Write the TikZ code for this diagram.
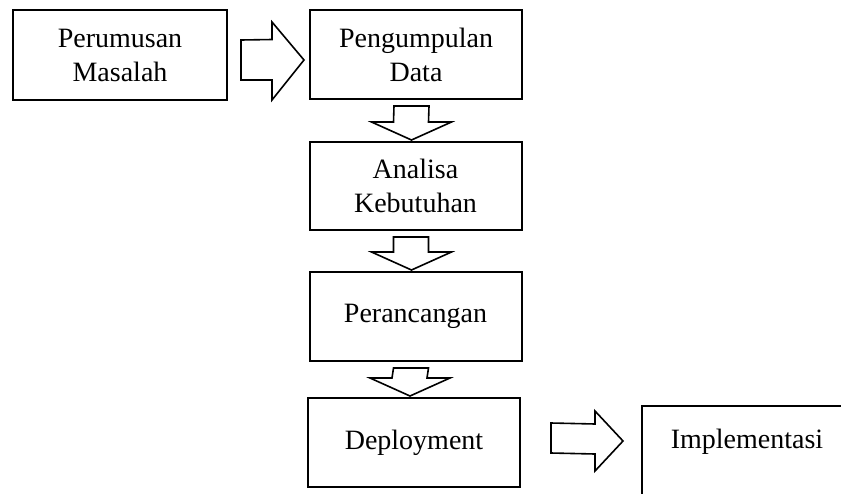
\documentclass[tikz,border=0pt]{standalone}
\usepackage{fontspec}
\setmainfont{Liberation Serif}
\usetikzlibrary{calc}

\begin{document}
\begin{tikzpicture}[
  x=0.5pt, y=-0.5pt,
  font=\fontsize{14}{17}\selectfont,
  box/.style={draw, line width=1pt, align=center, inner sep=2pt,
              minimum width=106pt, minimum height=44.5pt},
  blk/.style={draw, thick, fill=white, line join=miter}
]
  \useasboundingbox (0,0) rectangle (841,493);
  \clip (0,0) rectangle (841,493);

  % ================= BOXES =================
  \node[box, minimum width=107pt, minimum height=45pt] (perumusan) at (120,55)
    {Perumusan\\Masalah};
  \node[box] (pengumpulan) at (416,54.5) {Pengumpulan\\Data};
  \node[box, minimum height=44pt] (analisa) at (415.5,186) {Analisa\\Kebutuhan};
  \node[box] (perancangan) at (415.5,316.5) {Perancangan};
  \node[box] (deployment) at (414,442.5) {Deployment};
  % last box runs past the right and bottom edge of the page
  \node[box, minimum width=105pt, minimum height=45.5pt, text depth=12.5pt,
        anchor=north west] (implementasi) at (641,405) {Implementasi};

  % ================= BLOCK ARROWS =================
  \draw[blk] ($(perumusan.east)+(13,-15)$) -- ($(pengumpulan.west)+(-37,-15)$)
    -- ($(pengumpulan.west)+(-37,-32.5)$) -- ($(pengumpulan.west)+(-5,5.5)$)
    -- ($(pengumpulan.west)+(-37,45.5)$) -- ($(pengumpulan.west)+(-37,25.5)$)
    -- ($(perumusan.east)+(13,25)$) -- cycle;

  \foreach \a/\b in {pengumpulan/analisa, analisa/perancangan, perancangan/deployment}
    \draw[blk] ($(\a.south)+(-22,6)$) -- ($(\a.south)+(13,6)$)
      -- ($(\b.north)+(13,-19)$) -- ($(\b.north)+(36,-19)$)
      -- ($(\b.north)+(-4,-1)$) -- ($(\b.north)+(-44,-19)$)
      -- ($(\b.north)+(-22,-19)$) -- cycle;

  \draw[blk] ($(deployment.east)+(30,-19.5)$) -- ($(implementasi.west)+(-46,-27.5)$)
    -- ($(implementasi.west)+(-46,-40.5)$) -- ($(implementasi.west)+(-18,-10.5)$)
    -- ($(implementasi.west)+(-46,19.5)$) -- ($(implementasi.west)+(-46,2.5)$)
    -- ($(deployment.east)+(30,10.5)$) -- cycle;
\end{tikzpicture}
\end{document}
